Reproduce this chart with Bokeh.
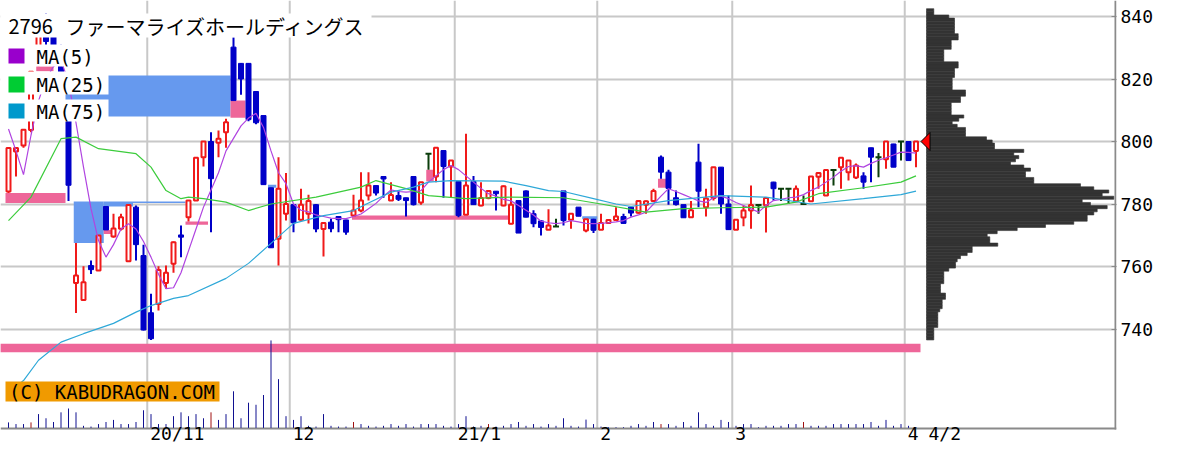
from bokeh.plotting import figure
from bokeh.models import Range1d, FixedTicker
from bokeh.core.properties import value
from bokeh.embed import file_html
from bokeh.resources import INLINE

# ------------------------------------------------------------------ data
stock_code = "2796"
stock_name = "ファーマライズホールディングス"
legend_labels = ["MA(5)", "MA(25)", "MA(75)"]
copyright_text = "(C) KABUDRAGON.COM"

opens = [784.0, 796.8, 798.7, 803.7, 825.0, 837.0, 834.0, 830.0, 808.0, 754.7,
         749.3, 760.3, 758.7, 779.2, 769.6, 772.1, 761.7, 779.0, 763.5, 745.2,
         748.0, 754.7, 760.9, 770.1, 775.8, 781.1, 795.0, 800.0, 799.6, 803.0,
         830.2, 825.0, 825.0, 816.0, 808.3, 785.2, 768.9, 776.9, 779.8, 775.0,
         776.9, 779.8, 772.0, 774.2, 776.0, 774.9, 776.3, 777.9, 782.7, 785.9,
         788.8, 781.1, 782.7, 782.0, 788.8, 780.5, 796.1, 788.8, 797.1, 792.0,
         787.2, 776.6, 787.2, 779.5, 781.9, 784.1, 779.5, 773.7, 781.1, 784.2,
         776.9, 774.6, 771.8, 772.8, 784.2, 775.0, 779.0, 771.5, 775.1, 771.8,
         773.9, 774.9, 776.0, 779.0, 777.2, 779.8, 781.0, 795.0, 790.2, 782.0,
         779.8, 775.8, 793.4, 779.0, 781.9, 791.8, 780.0, 771.8, 775.7, 777.9,
         779.7, 779.6, 787.0, 784.9, 784.9, 780.9, 780.0, 780.9, 788.7, 782.7,
         790.9, 791.8, 790.2, 788.5, 789.0, 798.0, 795.0, 794.3, 799.2, 800.0,
         800.0, 797.0]
highs = [797.9, 797.9, 803.8, 822.5, 836.0, 841.0, 835.0, 831.0, 808.0, 767.5,
         760.1, 761.9, 770.0, 779.2, 776.9, 776.9, 780.0, 779.5, 767.0, 751.3,
         760.1, 760.3, 768.0, 773.1, 781.1, 794.8, 800.2, 803.0, 803.5, 807.3,
         833.4, 825.1, 825.1, 816.0, 808.3, 785.2, 795.0, 789.9, 780.0, 784.9,
         783.0, 780.0, 774.0, 775.3, 776.0, 775.0, 783.0, 790.2, 790.2, 785.9,
         788.8, 787.0, 784.3, 782.0, 788.9, 787.0, 796.1, 798.0, 797.1, 793.9,
         787.2, 802.5, 789.0, 787.0, 784.5, 784.1, 785.9, 785.2, 781.1, 784.3,
         778.0, 774.9, 778.3, 775.3, 784.2, 776.9, 779.0, 775.1, 775.3, 776.9,
         774.9, 779.0, 776.9, 779.0, 781.1, 781.1, 784.9, 795.5, 791.0, 784.3,
         779.8, 781.0, 799.3, 784.9, 791.8, 791.8, 782.7, 775.0, 779.5, 785.9,
         779.7, 781.9, 787.1, 784.9, 784.9, 785.9, 782.7, 788.8, 789.9, 790.9,
         790.9, 794.8, 793.9, 793.0, 790.2, 798.0, 796.3, 800.0, 799.3, 800.0,
         800.0, 800.0]
lows = [783.5, 788.8, 798.0, 803.0, 824.1, 830.0, 826.0, 821.1, 781.0, 745.1,
        749.3, 757.6, 758.7, 771.7, 769.2, 771.5, 761.7, 761.9, 739.5, 736.5,
        745.9, 752.9, 758.0, 763.0, 774.4, 781.0, 792.0, 771.0, 795.0, 798.0,
        813.1, 815.0, 806.5, 805.5, 786.2, 766.0, 760.3, 774.7, 771.0, 774.7,
        773.8, 771.0, 763.2, 771.0, 771.0, 770.2, 776.3, 777.4, 781.1, 782.7,
        782.0, 781.1, 781.0, 776.0, 779.5, 779.8, 791.0, 787.0, 782.0, 782.0,
        775.8, 776.6, 779.7, 779.3, 781.5, 777.9, 779.3, 773.5, 770.7, 775.8,
        772.6, 769.9, 771.8, 772.8, 773.1, 772.1, 776.1, 771.0, 770.7, 771.8,
        773.9, 774.9, 773.7, 776.0, 776.9, 776.9, 781.0, 788.1, 779.8, 779.5,
        775.6, 775.8, 779.0, 776.0, 781.1, 776.9, 771.7, 771.8, 772.9, 772.1,
        776.9, 770.9, 781.1, 781.0, 780.0, 780.9, 780.0, 780.9, 784.9, 782.7,
        785.9, 784.9, 787.5, 788.0, 784.9, 787.0, 788.6, 791.3, 791.8, 793.9,
        793.9, 791.8]
closes = [797.9, 797.9, 803.8, 822.3, 834.0, 832.0, 828.0, 822.0, 786.0, 757.1,
          755.0, 759.0, 769.9, 771.7, 772.2, 775.8, 779.7, 767.0, 739.7, 736.9,
          758.9, 758.0, 767.8, 769.4, 781.1, 794.8, 800.0, 788.1, 800.9, 806.2,
          813.1, 820.0, 807.0, 806.0, 786.2, 766.0, 784.9, 780.0, 774.0, 779.8,
          781.0, 772.0, 773.9, 772.1, 775.0, 771.0, 777.9, 781.1, 785.9, 783.5,
          788.0, 782.9, 781.5, 781.1, 779.8, 787.0, 796.1, 798.0, 792.0, 793.9,
          776.3, 785.9, 779.8, 781.9, 784.2, 783.3, 785.7, 779.8, 770.7, 775.8,
          773.7, 772.5, 773.1, 772.8, 774.7, 776.9, 776.1, 775.1, 771.6, 773.9,
          774.9, 776.0, 773.8, 777.1, 781.0, 780.9, 784.2, 790.2, 785.0, 779.8,
          775.6, 778.0, 784.1, 781.8, 791.8, 780.0, 771.8, 775.0, 777.9, 779.7,
          779.7, 781.9, 784.9, 784.9, 784.9, 784.9, 780.0, 788.8, 789.9, 790.9,
          790.9, 794.8, 793.9, 792.3, 787.0, 795.0, 795.0, 800.0, 791.8, 800.0,
          793.9, 800.0]
# volume (hundreds of shares)
volumes = [530, 370, 370, 530, 1330, 930, 570, 1500, 1870, 1500,
           200, 130, 370, 570, 770, 370, 370, 570, 1700, 1330,
           370, 370, 1130, 1500, 1130, 1330, 930, 1500, 770, 1330,
           3530, 930, 2430, 2230, 3170, 8430, 4700, 1130, 770, 1130,
           200, 130, 1330, 200, 130, 130, 570, 370, 200, 130,
           200, 370, 200, 370, 130, 370, 370, 370, 200, 130,
           370, 1130, 130, 200, 370, 130, 200, 370, 570, 200,
           370, 130, 370, 200, 930, 200, 130, 800, 370, 130,
           70, 70, 70, 200, 370, 200, 570, 370, 370, 200,
           570, 200, 1500, 370, 200, 770, 570, 200, 370, 370,
           70, 200, 200, 200, 370, 370, 570, 200, 200, 200,
           370, 370, 370, 370, 370, 570, 200, 770, 200, 370,
           200, 50]
vol_red_days = [3, 27, 46, 64, 87, 106]

ma5 = [804, 797, 789.4, 802, 813, 820, 824, 826, 819, 806,
       791.8, 778.5, 768.3, 763, 767, 772, 773.7, 772, 768, 763,
       757.5, 752.9, 753.2, 758, 765, 772, 779, 784.5, 790, 797,
       801, 805, 807.5, 809, 804.5, 797, 790, 786.5, 780, 778,
       777.5, 776.5, 776, 775.5, 775.3, 775.3, 776, 776.8, 778.5, 780.2,
       782.5, 784.5, 784, 783.8, 784, 784.3, 787, 789, 791, 792.3,
       791, 789, 787, 785, 783.3, 782.5, 781.5, 781, 779.5, 778,
       776.5, 774.5, 774, 773.7, 774, 774.7, 774.3, 773.8, 773.7, 773.8,
       774, 774.3, 774.7, 775.8, 776.5, 777.4, 780, 782.5, 784.9, 784,
       783, 782, 781, 780.5, 782, 782.5, 781.7, 780.5, 779.5, 778.5,
       777.4, 779.5, 781.1, 781.5, 782, 782.2, 783, 784.3, 785.4, 787,
       788.6, 790.5, 792, 792.3, 791.8, 793, 794, 794.8, 795.7, 796.6,
       796.5, 796.3]
ma25_day = [0, 3, 7, 9, 12, 17, 19, 21, 23, 24, 26, 29, 32, 35, 41, 44, 47, 49, 53, 56,
            61, 67, 74, 79, 85, 90, 95, 101, 105, 108, 114, 119, 121]
ma25_val = [774.7, 782.2, 800.9, 801.4, 797.7, 796.1, 791.8, 784.3, 781.7, 782.2,
            781.7, 780.6, 777.9, 780.0, 782.2, 783.8, 785.4, 787.5, 784.9, 782.7,
            781.7, 782.2, 782.0, 780.0, 777.4, 778.5, 778.8, 779.0, 780.6, 783.3,
            785.2, 787.0, 789.0]
ma75_day = [0, 2, 4, 7, 10, 14, 17, 19, 22, 24, 29, 32, 35, 38, 42, 46, 48, 51, 54, 56,
            59, 66, 69, 72, 74, 78, 81, 83, 88, 95, 101, 107, 114, 119, 121]
ma75_val = [719.5, 723.5, 730.0, 735.8, 738.5, 741.8, 745.4, 747.5, 749.8, 750.7,
            756.2, 761.0, 767.4, 773.8, 776.3, 777.9, 780.3, 783.8, 785.4, 787.0,
            787.5, 787.3, 785.9, 784.3, 784.0, 781.7, 780.0, 779.2, 781.1, 782.7,
            782.2, 780.0, 781.7, 783.0, 784.1]

# unfilled price gaps ("windows"): day span, price span, direction
gap_from = [-1.1, -0.4, 3.7, 7.6, 8.7, 12.7, 16.6, 12.7, 23.6, 29.6, 34.6, 45.8, 55.7, 76.5, 86.6]
gap_to = [121.6, 7.6, 6.0, 29.6, 12.7, 16.6, 23.6, 13.9, 26.6, 31.6, 35.7, 66.9, 56.7, 78.5, 87.7]
gap_low = [732.6, 780.3, 822.5, 808.0, 767.5, 779.2, 780.3, 770.4, 773.4, 807.6, 785.2, 775.0, 787.2, 775.1, 785.2]
gap_high = [735.3, 783.5, 824.1, 821.1, 780.8, 780.8, 780.8, 771.7, 774.4, 813.1, 786.2, 776.3, 791.0, 776.1, 788.1]
gap_up = [True, True, True, False, False, False, False, True, True, True, False, True, True, False, True]

# volume at price (price bins 842 .. 737)
profile_price = list(range(842, 736, -1))
profile_vol = [730, 730, 2230, 2800, 2800, 2800, 2800, 2800, 3170, 3170,
               2470, 2470, 2470, 1730, 1730, 1730, 1730, 3170, 3170, 2800,
               2800, 2800, 2570, 2570, 2570, 2570, 3900, 3900, 3400, 3400,
               2470, 2470, 2470, 2470, 3730, 3230, 2570, 3070, 3900, 3900,
               3900, 6000, 6570, 6800, 6800, 9730, 8730, 9230, 8900, 8400,
               9730, 10400, 9900, 9900, 10730, 10730, 15400, 16730, 18230, 17570,
               18730, 15570, 16400, 18070, 17070, 16730, 16070, 16070, 14730, 11900,
               9070, 7070, 6070, 6330, 6330, 7130, 4570, 4570, 4070, 3400,
               3070, 2900, 2900, 2230, 1730, 1730, 1730, 1730, 1400, 1400,
               1400, 1900, 1900, 1570, 1570, 1570, 1330, 1130, 1130, 1130,
               1130, 1130, 730, 730, 730, 730]

month_start_day = [19, 38, 60, 79, 97, 120]
month_labels = ["20/11", "12", "21/1", "2", "3", "4"]
last_date_label = "4/2"
price_ticks = [740, 760, 780, 800, 820, 840]

# ------------------------------------------------------------------ layout helpers
PX = 7.5               # pixels per trading day
def ix(px):            # canvas x pixel -> day index
    return (px - 8) / PX
def py(px):            # canvas y pixel -> price
    return 800 - (px - 141) / 3.125

MONO = "DejaVu Sans Mono"
RED, BLUE, DOJI = "#f01a1a", "#0000c8", "#0b3d0b"
AXIS_GRAY = "#8a8a8a"

p = figure(width=1192, height=444, title=None,
           x_range=Range1d(ix(0), ix(1116)), y_range=Range1d(py(444), py(0)),
           output_backend="svg", toolbar_location=None,
           y_axis_location="right", x_axis_location=None,
           min_border_left=0, min_border_top=0, min_border_right=76, min_border_bottom=0)
p.outline_line_color = None
p.background_fill_color = "white"
p.border_fill_color = "white"
p.extra_y_ranges = {"vol": Range1d(0, 428 * 100)}
p.xgrid.visible = False

p.ygrid.ticker = FixedTicker(ticks=price_ticks)
p.ygrid.grid_line_color = "#c8c8c8"
p.ygrid.grid_line_width = 2

# right price axis
ya = p.yaxis[0]
ya.ticker = FixedTicker(ticks=price_ticks)
ya.major_label_text_font = MONO
ya.major_label_text_font_size = "18px"
ya.major_label_text_color = "#000000"
ya.axis_line_color = None
ya.major_tick_in = 5
ya.major_tick_out = 0
ya.major_tick_line_color = AXIS_GRAY
ya.major_tick_line_width = 1
ya.minor_tick_line_color = None
ya.major_label_standoff = 4

# month gridlines, axis lines
grid_x = [m - 0.5 for m in month_start_day]
p.segment(x0=grid_x, x1=grid_x, y0=[py(428)] * len(grid_x), y1=[py(0)] * len(grid_x),
          line_color="#c8c8c8", line_width=2)
p.segment(x0=[ix(0)], x1=[ix(1116)], y0=[py(428)], y1=[py(428)], line_color=AXIS_GRAY, line_width=2)
p.segment(x0=[ix(1115)], x1=[ix(1115)], y0=[py(429)], y1=[py(0)], line_color=AXIS_GRAY, line_width=2)

# gaps
p.quad(left=gap_from, right=gap_to, bottom=gap_low, top=gap_high,
       fill_color=["#ee6699" if u else "#6699ee" for u in gap_up], line_color=None)

# volume bars (baseline = axis line at y 428)
days = list(range(len(closes)))
vol_base = 16 * 100
p.segment(x0=days, x1=days, y0=[vol_base] * len(days), y1=[vol_base + v for v in volumes],
          y_range_name="vol",
          line_color=["#a01010" if d in vol_red_days else "#101090" for d in days], line_width=1)

# volume profile
pl = ix(926)
p.quad(left=[pl] * len(profile_vol), right=[pl + v / (100 * PX) for v in profile_vol],
       bottom=[q - 0.5 for q in profile_price], top=[q + 0.5 for q in profile_price],
       fill_color="#333333", line_color="#333333", line_width=0.6)

# candles
up = [d for d in days if closes[d] > opens[d]]
dn = [d for d in days if closes[d] < opens[d]]
dj = [d for d in days if closes[d] == opens[d]]
for grp, col in ((up, RED), (dn, BLUE), (dj, DOJI)):
    p.segment(x0=grp, x1=grp, y0=[lows[d] for d in grp], y1=[highs[d] for d in grp],
              line_color=col, line_width=2)
p.quad(left=[d - 2.0 / PX for d in up], right=[d + 2.0 / PX for d in up],
       bottom=[opens[d] for d in up], top=[closes[d] for d in up],
       fill_color="white", line_color=RED, line_width=2)
p.quad(left=[d - 2.5 / PX for d in dn], right=[d + 2.5 / PX for d in dn],
       bottom=[closes[d] for d in dn], top=[opens[d] for d in dn],
       fill_color=BLUE, line_color=BLUE, line_width=1)
p.segment(x0=[d - 3.0 / PX for d in dj], x1=[d + 3.0 / PX for d in dj],
          y0=[opens[d] for d in dj], y1=[opens[d] for d in dj], line_color=DOJI, line_width=2)

# moving averages
p.line(days, ma5, line_color="#b044e0", line_width=1.2)
p.line(ma25_day, ma25_val, line_color="#3ccc3c", line_width=1.2)
p.line(ma75_day, ma75_val, line_color="#2ea8d8", line_width=1.2)

# current price marker
lc = closes[-1]
p.patch([ix(920.5), ix(929.5), ix(929.5)], [lc, lc + 9 / 3.125, lc - 9 / 3.125],
        fill_color="#ff0000", line_color="#000000", line_width=1)

# date labels (left-aligned just right of each month gridline)
lab_x = [m - 0.5 + 3 / PX for m in month_start_day] + [ix(928)]
lab_t = month_labels + [last_date_label]
p.text(x=lab_x, y=[py(432.5)] * len(lab_x), text=lab_t, text_font=value(MONO),
       text_font_size=value("18px"), text_baseline="middle", text_align="left",
       text_color="#000000")

# copyright badge
p.quad(left=[ix(5)], right=[ix(219)], top=[py(381)], bottom=[py(401)],
       fill_color="#f09a00", line_color=None)
p.text(x=[ix(8.5)], y=[py(391.5)], text=[copyright_text], text_font=value(MONO),
       text_font_size=value("19px"), text_baseline="middle", text_align="left",
       text_color="#000000")

# title + legend
p.quad(left=[ix(0)], right=[ix(371)], top=[py(13)], bottom=[py(37)], fill_color="white", line_color=None)
for top, bot in ((44, 66), (71, 94), (99, 121)):
    p.quad(left=[ix(0)], right=[ix(108)], top=[py(top)], bottom=[py(bot)], fill_color="white", line_color=None)
p.text(x=[ix(8), ix(65)], y=[py(25.5), py(25.5)], text=[stock_code, stock_name],
       text_font=value("Noto Sans CJK JP"), text_font_size=value("20px"),
       text_baseline="middle", text_align="left", text_color="#000000")
sq_cols = ["#9900cc", "#00cc33", "#0099cc"]
for lab, col, (st, sb), mid in zip(legend_labels, sq_cols, ((48, 63), (76, 92), (103, 118)), (56.5, 84, 111)):
    p.quad(left=[ix(8)], right=[ix(24)], top=[py(st)], bottom=[py(sb)], fill_color=col, line_color=None)
    p.text(x=[ix(36)], y=[py(mid)], text=[lab], text_font=value(MONO), text_font_size=value("19px"),
           text_baseline="middle", text_align="left", text_color="#000000")

open("out.html", "w").write(file_html(p, INLINE))
